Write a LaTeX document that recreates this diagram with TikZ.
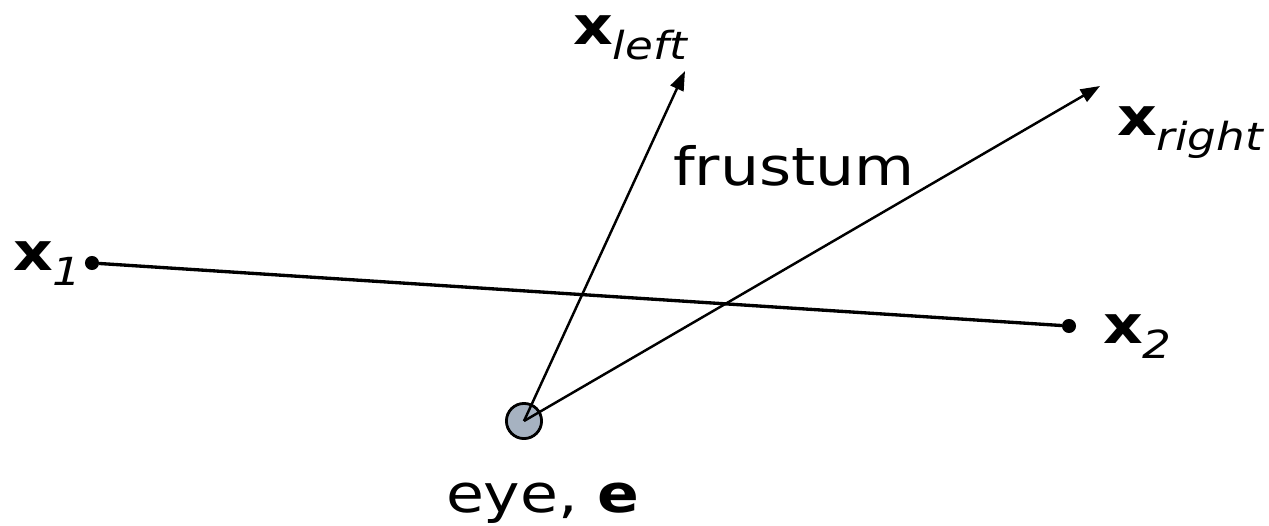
\documentclass[tikz,border=0pt]{standalone}
\usepackage{fontspec}
\setmainfont[FakeStretch=1.17]{DejaVu Sans}
\usetikzlibrary{arrows.meta}
\definecolor{eyegray}{RGB}{166,178,193}
\newcommand{\pointlabel}[1]{\textbf{x}\raisebox{-9pt}{\fontsize{22}{24}\selectfont\itshape #1}}
\begin{document}
\begin{tikzpicture}[x=0.02cm,y=-0.02cm,every node/.style={font=\fontsize{30}{36}\selectfont, inner sep=0pt, outer sep=0pt},
  dot/.style={circle,fill=black,minimum size=8pt},
  ray/.style={line width=1.4pt,-{Triangle[length=11pt,width=8pt]}}]
\useasboundingbox (0,0) rectangle (1269,525);
\node[dot] (p1) at (92,263) {};
\node[dot] (p2) at (1069,326) {};
\node[circle,draw,line width=1.6pt,fill=eyegray,minimum size=20pt] (eye) at (524,421) {};
\coordinate (left) at (685,71);
\coordinate (right) at (1100,86);
\draw[line width=1.9pt] (p1) -- (p2);
\draw[ray] (eye.center) -- (left);
\draw[ray] (eye.center) -- (right);
\node[anchor=base west] (xleft) at (573,44) {\pointlabel{left}};
\node[anchor=base west] (xright) at (1117,135) {\pointlabel{right}};
\node[anchor=base west] (x1) at (13,270) {\pointlabel{1}};
\node[anchor=base west] (x2) at (1103,343) {\pointlabel{2}};
\node[anchor=base west] (frus) at (673,185) {frustum};
\node[anchor=base west] (eyelabel) at (446,512) {eye, \textbf{e}};
\end{tikzpicture}
\end{document}
